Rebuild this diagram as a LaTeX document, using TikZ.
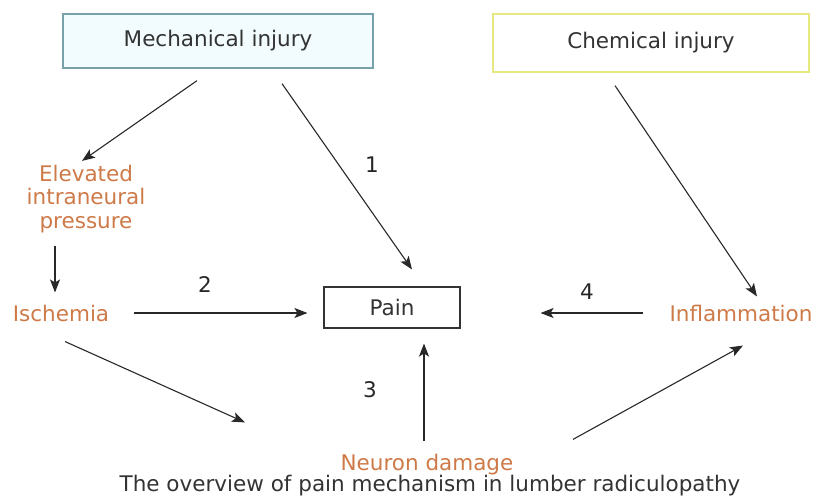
\documentclass[tikz,border=0pt]{standalone}
\usepackage{fontspec}
\setmainfont{DejaVu Sans}
\usetikzlibrary{arrows.meta,calc}
\definecolor{orangetxt}{RGB}{206,122,72}
\definecolor{mechborder}{RGB}{118,160,170}
\definecolor{mechfill}{RGB}{242,251,253}
\definecolor{chemborder}{RGB}{232,232,130}
\definecolor{linegray}{RGB}{40,40,40}
\tikzset{
  lbl/.style={font=\fontsize{21.5}{23}\selectfont, inner sep=0pt, text=black!80},
  otxt/.style={font=\fontsize{21.5}{23.5}\selectfont, inner sep=0pt, text=orangetxt, align=center},
  arr/.style={draw=linegray, line width=1.1pt, -{Stealth[length=13pt,width=10pt,inset=3pt]}},
  num/.style={font=\fontsize{21.5}{23}\selectfont, inner sep=0pt, text=black!85},
}
\begin{document}
\begin{tikzpicture}[x=1pt,y=-1pt]
\useasboundingbox (0,0) rectangle (814,501);
\node[lbl, draw=mechborder, fill=mechfill, line width=1.3pt, minimum width=310pt, minimum height=54pt] (mech) at (218,41) {Mechanical injury};
\node[lbl, draw=chemborder, line width=1.3pt, minimum width=316pt, minimum height=58pt] (chem) at (651,43) {Chemical injury};
\node[lbl, draw=black!80, line width=1.1pt, minimum width=136pt, minimum height=41pt] (pain) at (392,307.5) {Pain};
\node[otxt] (elev) at (86,199) {Elevated\\intraneural\\pressure};
\node[otxt] (isch) at (61,313) {Ischemia};
\node[otxt] (infl) at (741,313) {Inflammation};
\node[otxt] (neur) at (427,465) {Neuron damage};
\node[lbl, font=\fontsize{21.5}{23}\selectfont] (cap) at (430,486) {The overview of pain mechanism in lumber radiculopathy};
\node[num] (n1) at (372,165) {1};
\node[num] (n2) at (205,285) {2};
\node[num] (n3) at (370,390) {3};
\node[num] (n4) at (587,292) {4};
% connectors
\draw[arr] ($(mech.south)+(-21,12)$) -- ($(elev.north)+(-4,-4)$);
\draw[arr] ($(mech.south)+(64,15)$) -- ($(pain.north)+(20,-17)$);
\draw[arr] ($(elev.south)+(-31,13)$) -- ($(isch.north)+(-6,-12)$);
\draw[arr] ($(isch.east)+(25,0)$) -- ($(isch.east -| pain.west)+(-16,0)$);
\draw[arr] ($(isch.south)+(4,20)$) -- ($(neur.north)+(-182,-32)$);
\draw[arr] ($(neur.north)+(-3,-13)$) -- ($(neur.north |- pain.south)+(-3,15)$);
\draw[arr] ($(neur.north)+(146,-15)$) -- ($(infl.south)+(2,24)$);
\draw[arr] ($(infl.west)+(-26,0)$) -- ($(infl.west -| pain.east)+(80,0)$);
\draw[arr] ($(chem.south)+(-36,13)$) -- ($(infl.north)+(16,-8)$);
\end{tikzpicture}
\end{document}
